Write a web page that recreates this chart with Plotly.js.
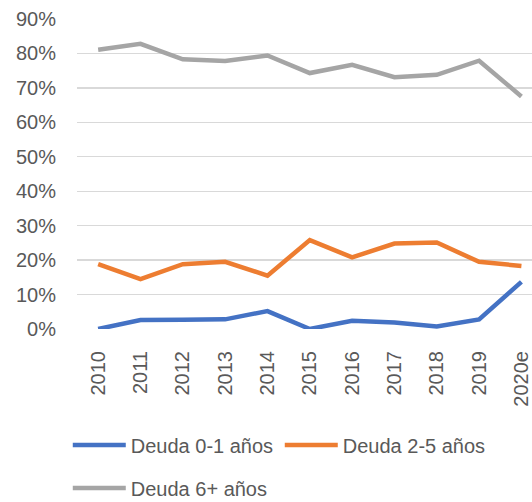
<!DOCTYPE html>
<html>
<head>
<meta charset="utf-8">
<script src="https://cdn.plot.ly/plotly-3.0.1.min.js"></script>
<style>html,body{margin:0;padding:0;background:#fff;}#chart{width:532px;height:502px;}</style>
</head>
<body>
<div id="chart"></div>
<script>
const years = ["2010","2011","2012","2013","2014","2015","2016","2017","2018","2019","2020e"];
const deuda01 = [0.000, 0.026, 0.027, 0.028, 0.052, 0.000, 0.024, 0.019, 0.007, 0.028, 0.137];
const deuda25 = [0.188, 0.145, 0.188, 0.195, 0.155, 0.258, 0.208, 0.248, 0.251, 0.195, 0.183];
const deuda6p = [0.811, 0.828, 0.783, 0.778, 0.794, 0.743, 0.767, 0.731, 0.738, 0.779, 0.675];
const seriesNames = ["Deuda 0-1 años", "Deuda 2-5 años", "Deuda 6+ años"];
const colors = ["#4472C4", "#ED7D31", "#A5A5A5"];
const yTicks = [0,0.1,0.2,0.3,0.4,0.5,0.6,0.7,0.8,0.9];

const font = "Liberation Sans, Arial, sans-serif";
const legendIds = ["legend", "legend", "legend2"];
const data = [deuda01, deuda25, deuda6p].map((vals, i) => ({
  x: years, y: vals, type: "scatter", mode: "lines", name: seriesNames[i],
  legend: legendIds[i],
  line: {color: colors[i], width: 4.5}, hoverinfo: "skip"
}));

const legendBase = {
  orientation: "h", xref: "container", yref: "container",
  x: 0.1274, xanchor: "left", yanchor: "middle",
  entrywidth: 144, entrywidthmode: "pixels", itemwidth: 53,
  font: {size: 20, color: "#595959"}, bgcolor: "rgba(0,0,0,0)"
};

const layout = {
  width: 532, height: 502,
  margin: {l: 77, r: 0, t: 19, b: 173},
  paper_bgcolor: "#fff", plot_bgcolor: "#fff",
  font: {family: font, size: 20, color: "#595959"},
  showlegend: true,
  xaxis: {
    type: "category", range: [-0.5, 10.25], automargin: false,
    tickangle: -90, showgrid: false, zeroline: false, showline: false,
    ticks: "", ticklabelstandoff: 17,
    tickfont: {size: 20, color: "#595959"}, fixedrange: true
  },
  yaxis: {
    range: [0, 0.9], tickvals: yTicks, tickformat: ".0%", automargin: false,
    showgrid: true, gridcolor: "#D9D9D9", gridwidth: 1.3,
    zeroline: false, showline: false, ticks: "", ticklabelstandoff: 20,
    tickfont: {size: 20, color: "#595959"}, fixedrange: true
  },
  legend: Object.assign({}, legendBase, {y: 0.1135}),
  legend2: Object.assign({}, legendBase, {y: 0.028})
};
Plotly.newPlot("chart", data, layout, {displayModeBar: false, staticPlot: true});
</script>
</body>
</html>
